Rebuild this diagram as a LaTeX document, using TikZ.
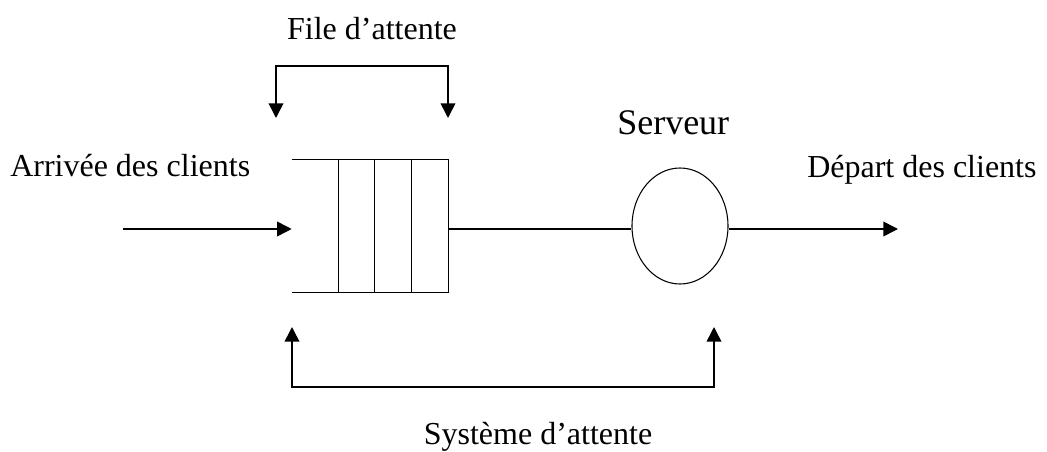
\documentclass[tikz,border=0pt]{standalone}
\usepackage{fontspec}
\setmainfont{Liberation Serif}
\usetikzlibrary{arrows.meta,shapes.geometric}
\begin{document}
\begin{tikzpicture}[x=0.75pt,y=-0.75pt,
  lbl/.style={inner sep=0pt,font=\fontsize{24pt}{28pt}\selectfont},
  conn/.style={line width=1.2pt,-{Triangle[length=11pt,width=11pt]}},
  bothconn/.style={line width=1.2pt,{Triangle[length=11pt,width=11pt]}-{Triangle[length=11pt,width=11pt]}},
  qline/.style={line width=1pt}]
\useasboundingbox (0,0) rectangle (1047,452);
% queue
\node[draw=none,minimum width=117pt,minimum height=99pt,inner sep=0pt] (queue) at (370,226) {};
\draw[qline] (queue.north west) -- (queue.north east) -- (queue.south east) -- (queue.south west);
\draw[qline] ([xshift=35.25pt]queue.north west) -- ([xshift=35.25pt]queue.south west);
\draw[qline] ([xshift=62.25pt]queue.north west) -- ([xshift=62.25pt]queue.south west);
\draw[qline] ([xshift=90pt]queue.north west) -- ([xshift=90pt]queue.south west);
% server
\node[draw,ellipse,line width=0.8pt,minimum width=72pt,minimum height=87pt,inner sep=0pt] (server) at (680,226) {};
% connectors
\coordinate (in) at (123,229);
\coordinate (out) at (898,229);
\draw[conn] (in) -- (queue.west |- in);
\draw[line width=1.2pt] (queue.east |- in) -- (server.west |- in);
\draw[conn] (server.east |- out) -- (out);
% top bracket
\coordinate (fl) at (276,118);
\coordinate (fr) at (448,118);
\coordinate (ftl) at (276,66);
\coordinate (ftr) at (448,66);
\draw[bothconn] (fl) -- (ftl) -- (ftr) -- (fr);
% bottom bracket
\coordinate (sl) at (292,327);
\coordinate (sr) at (714,327);
\coordinate (sbl) at (292,387);
\coordinate (sbr) at (714,387);
\draw[bothconn] (sl) -- (sbl) -- (sbr) -- (sr);
% labels
\node[lbl,anchor=base] (file) at (372,40) {File d’attente};
\node[lbl,anchor=base west] (arr) at (10,177) {Arrivée des clients};
\node[lbl,anchor=base west,font=\fontsize{27pt}{31pt}\selectfont] (serv) at (617,135) {Serveur};
\node[lbl,anchor=base west] (dep) at (807,178) {Départ des clients};
\node[lbl,anchor=base] (sys) at (538,445) {Système d’attente};
\end{tikzpicture}
\end{document}
